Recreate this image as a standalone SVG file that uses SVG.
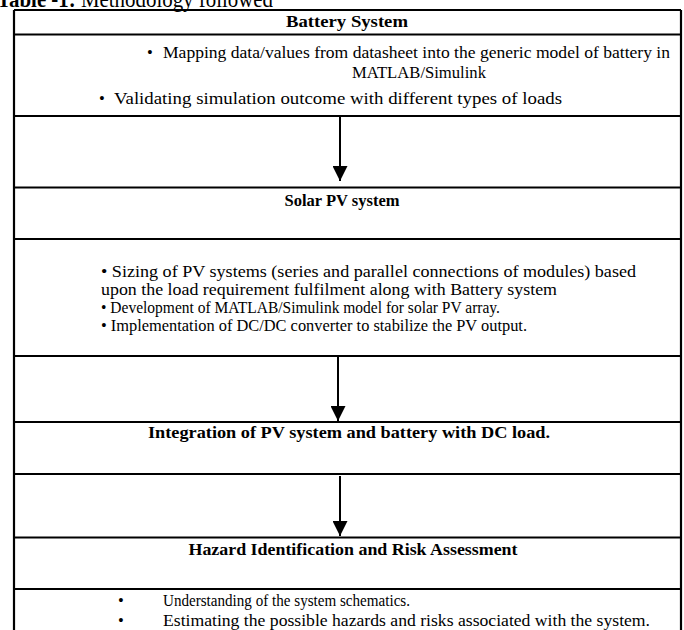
<svg xmlns="http://www.w3.org/2000/svg" width="684" height="630" viewBox="0 0 684 630">
<style>
.t{font-family:"Liberation Serif","DejaVu Serif",serif;font-size:16.5px;fill:#000}
.h{font-family:"Liberation Serif","DejaVu Serif",serif;font-size:16px;font-weight:bold;fill:#000}
.ln{stroke:#000;stroke-width:2.2;fill:none}
.ar{stroke:#000;stroke-width:2}
</style>
<defs>
<marker id="ah" viewBox="0 0 10 10" refX="10" refY="5" markerWidth="7.5" markerHeight="7.5" markerUnits="strokeWidth" orient="auto">
<path d="M0,0 L10,5 L0,10 Z" fill="#000"/>
</marker>
</defs>
<rect width="684" height="630" fill="#fff"/>
<text x="-3" y="7" class="t" style="font-size:23px" textLength="276" lengthAdjust="spacingAndGlyphs"><tspan font-weight="bold">Table -1:</tspan> Methodology followed</text>
<g id="table">
<path class="ln" d="M14,10 H681 M14,10 V630 M681,10 V630 M14,34.5 H681 M14,116 H681 M14,187.5 H681 M14,239 H681 M14,356 H681 M14,422 H681 M14,474 H681 M14,537.5 H681 M14,589 H681"/>
</g>
<g id="battery">
<text x="347" y="27" class="h" text-anchor="middle" textLength="122" lengthAdjust="spacingAndGlyphs">Battery System</text>
<text x="147" y="58" class="t">•</text>
<text x="163" y="58" class="t" textLength="507" lengthAdjust="spacingAndGlyphs">Mapping data/values from datasheet into the generic model of battery in</text>
<text x="352" y="78" class="t" textLength="134" lengthAdjust="spacingAndGlyphs">MATLAB/Simulink</text>
<text x="99" y="104" class="t">•</text>
<text x="114" y="104" class="t" textLength="448" lengthAdjust="spacingAndGlyphs">Validating simulation outcome with different types of loads</text>
</g>
<g id="solar">
<text x="342" y="206" class="h" text-anchor="middle" textLength="115" lengthAdjust="spacingAndGlyphs">Solar PV system</text>
<text x="101" y="277" class="t" textLength="535" lengthAdjust="spacingAndGlyphs">• Sizing of PV systems (series and parallel connections of modules) based</text>
<text x="101" y="295" class="t" textLength="456" lengthAdjust="spacingAndGlyphs">upon the load requirement fulfilment along with Battery system</text>
<text x="101" y="313" class="t" textLength="399" lengthAdjust="spacingAndGlyphs">• Development of MATLAB/Simulink model for solar PV array.</text>
<text x="101" y="331" class="t" textLength="426" lengthAdjust="spacingAndGlyphs">• Implementation of DC/DC converter to stabilize the PV output.</text>
</g>
<g id="integration">
<text x="349" y="438" class="h" text-anchor="middle" textLength="402" lengthAdjust="spacingAndGlyphs">Integration of PV system and battery with DC load.</text>
</g>
<g id="hazard">
<text x="353" y="555" class="h" text-anchor="middle" textLength="329" lengthAdjust="spacingAndGlyphs">Hazard Identification and Risk Assessment</text>
<text x="118" y="606" class="t">•</text>
<text x="163" y="606" class="t" textLength="247" lengthAdjust="spacingAndGlyphs">Understanding of the system schematics.</text>
<text x="118" y="626" class="t">•</text>
<text x="163" y="626" class="t" textLength="487" lengthAdjust="spacingAndGlyphs">Estimating the possible hazards and risks associated with the system.</text>
</g>
<g id="connectors">
<line class="ar" x1="340" y1="117" x2="340" y2="181" marker-end="url(#ah)"/>
<line class="ar" x1="338" y1="357" x2="338" y2="421" marker-end="url(#ah)"/>
<line class="ar" x1="340" y1="476" x2="340" y2="536" marker-end="url(#ah)"/>
</g>
</svg>
